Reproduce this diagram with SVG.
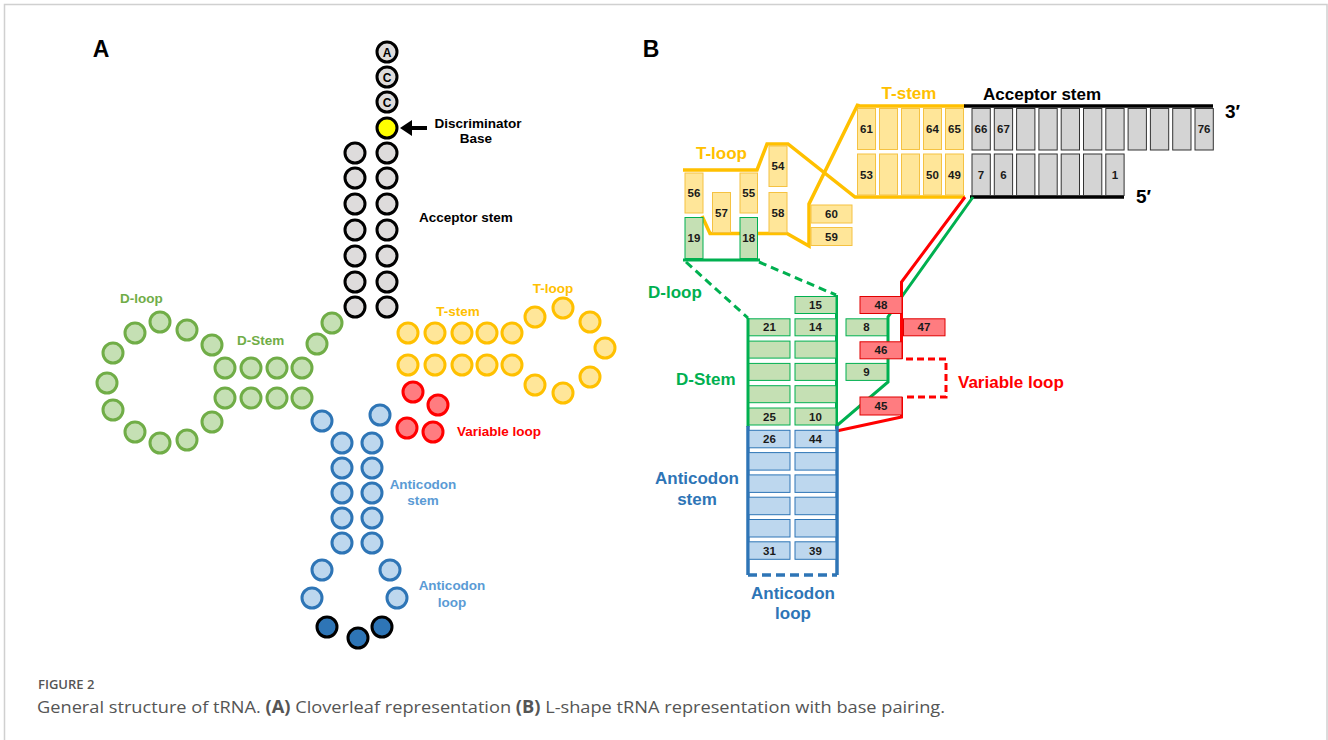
<svg xmlns="http://www.w3.org/2000/svg" width="1328" height="740" viewBox="0 0 1328 740">
<defs>
<style>
text{font-family:"Liberation Sans",Arial,sans-serif;font-weight:bold}
.c{stroke-width:3}
.k{fill:#DEDCDC;stroke:#000}
.yl{fill:#FFFF00;stroke:#000}
.g{fill:#C5E0B4;stroke:#70AD47}
.t{fill:#FFE699;stroke:#FFC000}
.r{fill:#FF7C80;stroke:#FF0000}
.b{fill:#BDD7EE;stroke:#2E75B6}
.bd{fill:#2E75B6;stroke:#000}
.la{font-size:13.5px}
.lb{font-size:17px}
.n{font-size:11.5px;fill:#1a1a1a;text-anchor:middle}
.bx{stroke-width:1}
.by{fill:#FFE699;stroke:#F5C242}
.bk{fill:#D4D4D4;stroke:#333}
.bg{fill:#C5E0B4;stroke:#00B050}
.bb{fill:#BDD7EE;stroke:#2E75B6}
.br{fill:#FF7C80;stroke:#E00000}
.ln{fill:none;stroke-width:3.5;stroke-linejoin:miter}
</style>
</defs>
<rect x="0" y="0" width="1328" height="740" fill="#fff"/>
<rect x="4.5" y="4.5" width="1322.5" height="760" fill="none" stroke="#d0d0d0" stroke-width="1.5"/>

<!-- Panel A -->
<text x="101" y="57" font-size="23" text-anchor="middle">A</text>
<g id="acceptorA" class="c">
<circle class="k" cx="387" cy="52" r="10"/><circle class="k" cx="387" cy="77" r="10"/><circle class="k" cx="387" cy="102" r="10"/>
<circle class="yl" cx="387" cy="128" r="10"/>
<circle class="k" cx="387" cy="153" r="10"/><circle class="k" cx="387" cy="178" r="10"/><circle class="k" cx="387" cy="204" r="10"/><circle class="k" cx="387" cy="230" r="10"/><circle class="k" cx="387" cy="256" r="10"/><circle class="k" cx="387" cy="282" r="10"/><circle class="k" cx="387" cy="307" r="10"/>
<circle class="k" cx="355" cy="153" r="10"/><circle class="k" cx="355" cy="178" r="10"/><circle class="k" cx="355" cy="204" r="10"/><circle class="k" cx="355" cy="230" r="10"/><circle class="k" cx="355" cy="256" r="10"/><circle class="k" cx="355" cy="282" r="10"/><circle class="k" cx="355" cy="307" r="10"/>
</g>
<g id="accLetters" font-size="12" text-anchor="middle">
<text x="387" y="56.5">A</text><text x="387" y="81.5">C</text><text x="387" y="106.5">C</text>
</g>
<g id="discrArrow">
<line x1="427" y1="128" x2="410" y2="128" stroke="#000" stroke-width="4"/>
<polygon points="400,128 412,120 412,136" fill="#000"/>
</g>
<text class="la" x="478" y="128" text-anchor="middle" font-size="13">Discriminator</text>
<text class="la" x="476" y="143" text-anchor="middle" font-size="13">Base</text>
<text class="la" x="419" y="222">Acceptor stem</text>

<g id="dArmA" class="c">
<circle class="g" cx="332" cy="323" r="10"/><circle class="g" cx="317" cy="344" r="10"/>
<circle class="g" cx="302" cy="368" r="10"/><circle class="g" cx="277" cy="368" r="10"/><circle class="g" cx="251" cy="368" r="10"/><circle class="g" cx="225" cy="368" r="10"/>
<circle class="g" cx="212" cy="345" r="10"/><circle class="g" cx="187" cy="330" r="10"/><circle class="g" cx="160" cy="322" r="10"/><circle class="g" cx="135" cy="333" r="10"/><circle class="g" cx="113" cy="353" r="10"/><circle class="g" cx="107" cy="383" r="10"/><circle class="g" cx="113" cy="410" r="10"/><circle class="g" cx="135" cy="432" r="10"/><circle class="g" cx="160" cy="443" r="10"/><circle class="g" cx="187" cy="440" r="10"/><circle class="g" cx="212" cy="422" r="10"/>
<circle class="g" cx="225" cy="398" r="10"/><circle class="g" cx="251" cy="398" r="10"/><circle class="g" cx="277" cy="398" r="10"/><circle class="g" cx="302" cy="398" r="10"/>
</g>
<text class="la" x="120" y="303" fill="#70AD47">D-loop</text>
<text class="la" x="237" y="345" fill="#70AD47">D-Stem</text>

<g id="tArmA" class="c">
<circle class="t" cx="408" cy="333" r="10"/><circle class="t" cx="435" cy="333" r="10"/><circle class="t" cx="462" cy="333" r="10"/><circle class="t" cx="487" cy="333" r="10"/><circle class="t" cx="512" cy="333" r="10"/>
<circle class="t" cx="408" cy="365" r="10"/><circle class="t" cx="435" cy="365" r="10"/><circle class="t" cx="462" cy="365" r="10"/><circle class="t" cx="487" cy="365" r="10"/><circle class="t" cx="512" cy="365" r="10"/>
<circle class="t" cx="535" cy="317" r="10"/><circle class="t" cx="563" cy="308" r="10"/><circle class="t" cx="590" cy="322" r="10"/><circle class="t" cx="605" cy="348" r="10"/><circle class="t" cx="590" cy="377" r="10"/><circle class="t" cx="563" cy="393" r="10"/><circle class="t" cx="535" cy="385" r="10"/>
</g>
<text class="la" x="458" y="316" text-anchor="middle" fill="#FFC000">T-stem</text>
<text class="la" x="553" y="293" text-anchor="middle" fill="#FFC000">T-loop</text>

<g id="varA" class="c">
<circle class="r" cx="413" cy="392" r="10"/><circle class="r" cx="438" cy="405" r="10"/><circle class="r" cx="407" cy="428" r="10"/><circle class="r" cx="433" cy="432" r="10"/>
</g>
<text class="la" x="457" y="436" fill="#FF0000">Variable loop</text>

<g id="antiA" class="c">
<circle class="b" cx="322" cy="421" r="10"/><circle class="b" cx="380" cy="415" r="10"/>
<circle class="b" cx="342" cy="443" r="10"/><circle class="b" cx="342" cy="468" r="10"/><circle class="b" cx="342" cy="493" r="10"/><circle class="b" cx="342" cy="518" r="10"/><circle class="b" cx="342" cy="543" r="10"/>
<circle class="b" cx="372" cy="443" r="10"/><circle class="b" cx="372" cy="468" r="10"/><circle class="b" cx="372" cy="493" r="10"/><circle class="b" cx="372" cy="518" r="10"/><circle class="b" cx="372" cy="543" r="10"/>
<circle class="b" cx="322" cy="570" r="10"/><circle class="b" cx="312" cy="598" r="10"/><circle class="b" cx="390" cy="570" r="10"/><circle class="b" cx="397" cy="598" r="10"/>
<circle class="bd" cx="327" cy="627" r="10"/><circle class="bd" cx="358" cy="638" r="10"/><circle class="bd" cx="382" cy="627" r="10"/>
</g>
<g fill="#5B9BD5" text-anchor="middle">
<text class="la" x="423" y="489">Anticodon</text><text class="la" x="423" y="505">stem</text>
<text class="la" x="452" y="590">Anticodon</text><text class="la" x="452" y="607">loop</text>
</g>

<!-- Panel B -->
<text x="651" y="57" font-size="23" text-anchor="middle">B</text>

<g id="connectors">
<polyline class="ln" stroke="#FFC000" points="683,170 757,170 767,144 788,144 855,197 965,197"/>
<polyline class="ln" stroke="#FFC000" points="702,216 710,233.5 787,233.5 809,246 809,204 858,104 858,106 965,106"/>
<line x1="964" y1="106" x2="1213" y2="106" stroke="#000" stroke-width="3.5"/>
<line x1="970" y1="197" x2="1124" y2="197" stroke="#000" stroke-width="3.5"/>
<line x1="683" y1="260" x2="760" y2="260" stroke="#00B050" stroke-width="3"/>
<line x1="686" y1="262" x2="748" y2="318" stroke="#00B050" stroke-width="3" stroke-dasharray="8,5"/>
<line x1="759" y1="262" x2="836" y2="295" stroke="#00B050" stroke-width="3" stroke-dasharray="8,5"/>
<polyline fill="none" stroke="#00B050" stroke-width="3" points="748,318 748,427"/>
<polyline fill="none" stroke="#00B050" stroke-width="3" points="836.5,295 836.5,426 888,382 888,317 903,295 973,197"/>
<polyline fill="none" stroke="#FF0000" stroke-width="3" points="836.5,431 901.5,417 901.5,397"/>
<polyline fill="none" stroke="#FF0000" stroke-width="3" points="901.5,359 901.5,282 965,197"/>
<path d="M906,359 H946 V397 H906" fill="none" stroke="#FF0000" stroke-width="3" stroke-dasharray="7,4"/>
<polyline fill="none" stroke="#2E75B6" stroke-width="3.5" points="748,426 748,575"/>
<polyline fill="none" stroke="#2E75B6" stroke-width="3.5" points="837,426 837,575"/>
<line x1="748" y1="575" x2="837" y2="575" stroke="#2E75B6" stroke-width="3.5" stroke-dasharray="9,5"/>
</g>

<g id="tLoopB" class="bx">
<rect class="by" x="685" y="173" width="18" height="40"/><text class="n" x="694" y="197">56</text>
<rect class="by" x="712.5" y="192.5" width="18" height="40"/><text class="n" x="721.5" y="216.5">57</text>
<rect class="by" x="740" y="173" width="17.5" height="40"/><text class="n" x="748.7" y="197">55</text>
<rect class="by" x="769" y="146" width="18" height="40.5"/><text class="n" x="778" y="170">54</text>
<rect class="by" x="769" y="192.5" width="18" height="40"/><text class="n" x="778" y="216.5">58</text>
<rect class="by" x="811" y="205" width="41" height="18"/><text class="n" x="831.5" y="218">60</text>
<rect class="by" x="811" y="227.5" width="41" height="18"/><text class="n" x="831.5" y="240.5">59</text>
<rect class="bg" x="685" y="217.5" width="18" height="41"/><text class="n" x="694" y="242">19</text>
<rect class="bg" x="740" y="217.5" width="17.5" height="41"/><text class="n" x="748.7" y="242">18</text>
</g>
<text class="lb" x="721.5" y="159" text-anchor="middle" fill="#FFC000">T-loop</text>

<g id="tStemB" class="bx">
<rect class="by" x="857.5" y="108.5" width="18" height="41"/><text class="n" x="866.5" y="133">61</text>
<rect class="by" x="879.5" y="108.5" width="18" height="41"/>
<rect class="by" x="901.5" y="108.5" width="18" height="41"/>
<rect class="by" x="923.5" y="108.5" width="18" height="41"/><text class="n" x="932.5" y="133">64</text>
<rect class="by" x="945.5" y="108.5" width="18" height="41"/><text class="n" x="954.5" y="133">65</text>
<rect class="by" x="857.5" y="154" width="18" height="41"/><text class="n" x="866.5" y="178.5">53</text>
<rect class="by" x="879.5" y="154" width="18" height="41"/>
<rect class="by" x="901.5" y="154" width="18" height="41"/>
<rect class="by" x="923.5" y="154" width="18" height="41"/><text class="n" x="932.5" y="178.5">50</text>
<rect class="by" x="945.5" y="154" width="18" height="41"/><text class="n" x="954.5" y="178.5">49</text>
</g>
<text class="lb" x="909" y="99" text-anchor="middle" fill="#FFC000">T-stem</text>

<g id="acceptorB" class="bx">
<rect class="bk" x="972" y="108.5" width="18.3" height="41.5"/><text class="n" x="981" y="133">66</text>
<rect class="bk" x="994.3" y="108.5" width="18.3" height="41.5"/><text class="n" x="1003.4" y="133">67</text>
<rect class="bk" x="1016.6" y="108.5" width="18.3" height="41.5"/>
<rect class="bk" x="1038.9" y="108.5" width="18.3" height="41.5"/>
<rect class="bk" x="1061.2" y="108.5" width="18.3" height="41.5"/>
<rect class="bk" x="1083.5" y="108.5" width="18.3" height="41.5"/>
<rect class="bk" x="1105.8" y="108.5" width="18.3" height="41.5"/>
<rect class="bk" x="1128.1" y="108.5" width="18.3" height="41.5"/>
<rect class="bk" x="1150.4" y="108.5" width="18.3" height="41.5"/>
<rect class="bk" x="1172.7" y="108.5" width="18.3" height="41.5"/>
<rect class="bk" x="1195" y="108.5" width="18.3" height="41.5"/><text class="n" x="1204.1" y="133">76</text>
<rect class="bk" x="972" y="154" width="18.3" height="41.5"/><text class="n" x="981" y="178.5">7</text>
<rect class="bk" x="994.3" y="154" width="18.3" height="41.5"/><text class="n" x="1003.4" y="178.5">6</text>
<rect class="bk" x="1016.6" y="154" width="18.3" height="41.5"/>
<rect class="bk" x="1038.9" y="154" width="18.3" height="41.5"/>
<rect class="bk" x="1061.2" y="154" width="18.3" height="41.5"/>
<rect class="bk" x="1083.5" y="154" width="18.3" height="41.5"/>
<rect class="bk" x="1105.8" y="154" width="18.3" height="41.5"/><text class="n" x="1115" y="178.5">1</text>
</g>
<text class="lb" x="983" y="100">Acceptor stem</text>
<text x="1225" y="118" font-size="19">3′</text>
<text x="1136" y="203" font-size="19">5′</text>

<g id="dStemB" class="bx">
<rect class="bg" x="795" y="296.5" width="41" height="17"/><text class="n" x="815.5" y="309">15</text>
<rect class="bg" x="749" y="318.8" width="41" height="17"/><text class="n" x="769.5" y="331.3">21</text>
<rect class="bg" x="795" y="318.8" width="41" height="17"/><text class="n" x="815.5" y="331.3">14</text>
<rect class="bg" x="749" y="341.1" width="41" height="17"/><rect class="bg" x="795" y="341.1" width="41" height="17"/>
<rect class="bg" x="749" y="363.4" width="41" height="17"/><rect class="bg" x="795" y="363.4" width="41" height="17"/>
<rect class="bg" x="749" y="385.7" width="41" height="17"/><rect class="bg" x="795" y="385.7" width="41" height="17"/>
<rect class="bg" x="749" y="408" width="41" height="17"/><text class="n" x="769.5" y="420.5">25</text>
<rect class="bg" x="795" y="408" width="41" height="17"/><text class="n" x="815.5" y="420.5">10</text>
<rect class="bg" x="846" y="318.8" width="41" height="17"/><text class="n" x="866.5" y="331.3">8</text>
<rect class="bg" x="846" y="363.4" width="41" height="17"/><text class="n" x="866.5" y="375.9">9</text>
</g>
<text class="lb" x="648" y="297.5" fill="#00B050">D-loop</text>
<text class="lb" x="676" y="385" fill="#00B050">D-Stem</text>

<g id="varB" class="bx">
<rect class="br" x="860" y="296.5" width="42" height="17"/><text class="n" x="881" y="309">48</text>
<rect class="br" x="903.5" y="318.8" width="41.5" height="17"/><text class="n" x="924" y="331.3">47</text>
<rect class="br" x="860" y="341.8" width="42" height="17"/><text class="n" x="881" y="354.3">46</text>
<rect class="br" x="860" y="397" width="42" height="18"/><text class="n" x="881" y="410">45</text>
</g>
<text class="lb" x="958" y="388" fill="#FF0000">Variable loop</text>

<g id="antiB" class="bx">
<rect class="bb" x="749" y="430.3" width="41" height="17.5"/><text class="n" x="769.5" y="443">26</text>
<rect class="bb" x="795" y="430.3" width="41" height="17.5"/><text class="n" x="815.5" y="443">44</text>
<rect class="bb" x="749" y="452.6" width="41" height="17.5"/><rect class="bb" x="795" y="452.6" width="41" height="17.5"/>
<rect class="bb" x="749" y="474.9" width="41" height="17.5"/><rect class="bb" x="795" y="474.9" width="41" height="17.5"/>
<rect class="bb" x="749" y="497.2" width="41" height="17.5"/><rect class="bb" x="795" y="497.2" width="41" height="17.5"/>
<rect class="bb" x="749" y="519.5" width="41" height="17.5"/><rect class="bb" x="795" y="519.5" width="41" height="17.5"/>
<rect class="bb" x="749" y="541.8" width="41" height="17.5"/><text class="n" x="769.5" y="554.5">31</text>
<rect class="bb" x="795" y="541.8" width="41" height="17.5"/><text class="n" x="815.5" y="554.5">39</text>
</g>
<g fill="#2E75B6" text-anchor="middle">
<text class="lb" x="697" y="484">Anticodon</text><text class="lb" x="697" y="505">stem</text>
<text class="lb" x="793" y="599">Anticodon</text><text class="lb" x="793" y="619">loop</text>
</g>

<!-- caption -->
<text x="38" y="689" font-size="13" fill="#555" style="font-family:'Open Sans','Liberation Sans',sans-serif;font-weight:600">FIGURE 2</text>
<text x="37" y="713" font-size="17" fill="#555" style="font-family:'Open Sans','Liberation Sans',sans-serif;font-weight:normal" textLength="908" lengthAdjust="spacingAndGlyphs">General structure of tRNA. <tspan font-weight="bold">(A)</tspan> Cloverleaf representation <tspan font-weight="bold">(B)</tspan> L-shape tRNA representation with base pairing.</text>
</svg>
